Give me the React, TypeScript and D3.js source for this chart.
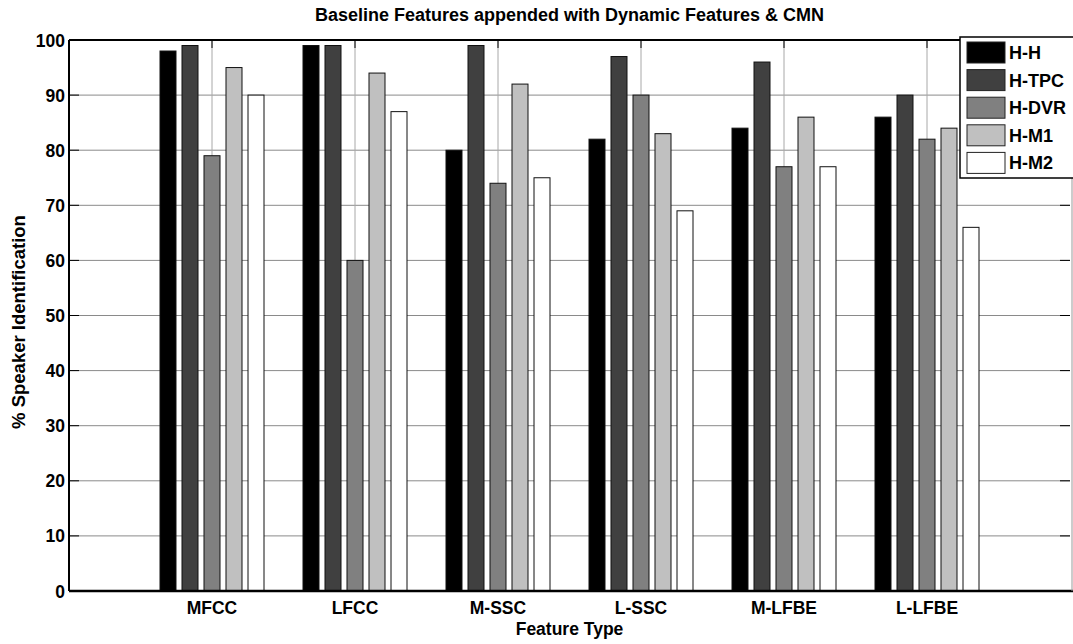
import React, { useRef, useEffect } from 'react';
import * as d3 from 'd3';

const categories = ['MFCC', 'LFCC', 'M-SSC', 'L-SSC', 'M-LFBE', 'L-LFBE'];
const seriesNames = ['H-H', 'H-TPC', 'H-DVR', 'H-M1', 'H-M2'];
const seriesColors = ['#000000', '#404040', '#808080', '#c0c0c0', '#ffffff'];

// one array per series, values per feature type
const hH = [98, 99, 80, 82, 84, 86];
const hTPC = [99, 99, 99, 97, 96, 90];
const hDVR = [79, 60, 74, 90, 77, 82];
const hM1 = [95, 94, 92, 83, 86, 84];
const hM2 = [90, 87, 75, 69, 77, 66];
const yTicks = [0, 10, 20, 30, 40, 50, 60, 70, 80, 90, 100];

const FONT = 'Liberation Sans, Arial, sans-serif';

const App = () => {
  const ref = useRef<SVGSVGElement>(null);

  useEffect(() => {
    const svg = d3.select(ref.current);
    svg.selectAll('*').remove();

    const left = 69, right = 1070, top = 40, bottom = 591;
    const allSeries = [hH, hTPC, hDVR, hM1, hM2];

    const x = d3.scaleLinear().domain([0, categories.length + 1]).range([left, right]);
    const y = d3.scaleLinear().domain([0, 100]).range([bottom, top]);
    const xs = d3.scaleBand().domain(seriesNames).range([-52, 52]).paddingInner(0.273);

    svg.append('rect').attr('width', 1073).attr('height', 644).attr('fill', '#fff');

    // grid
    const grid = svg.append('g');
    yTicks.slice(1, -1).forEach(t => {
      grid.append('line')
        .attr('x1', left).attr('x2', right)
        .attr('y1', y(t)).attr('y2', y(t))
        .attr('stroke', '#8a8a8a').attr('stroke-width', 1);
    });
    categories.forEach((c, i) => {
      grid.append('line')
        .attr('x1', x(i + 1)).attr('x2', x(i + 1))
        .attr('y1', top).attr('y2', bottom)
        .attr('stroke', '#a8a8a8').attr('stroke-width', 1);
    });

    // bars
    allSeries.forEach((vals, s) => {
      svg.append('g').selectAll('rect')
        .data(vals)
        .join('rect')
        .attr('x', (d, i) => x(i + 1) + (xs(seriesNames[s]) as number))
        .attr('y', d => y(d))
        .attr('width', xs.bandwidth())
        .attr('height', d => bottom - y(d))
        .attr('fill', seriesColors[s])
        .attr('stroke', '#111')
        .attr('stroke-width', 1);
    });

    // ticks
    yTicks.forEach(t => {
      svg.append('line').attr('x1', left).attr('x2', left + 10).attr('y1', y(t)).attr('y2', y(t)).attr('stroke', '#000');
      svg.append('line').attr('x1', right - 10).attr('x2', right).attr('y1', y(t)).attr('y2', y(t)).attr('stroke', '#000');
      svg.append('text')
        .attr('x', left - 4).attr('y', y(t) + 6.5)
        .attr('text-anchor', 'end')
        .attr('font-family', FONT).attr('font-weight', 'bold').attr('font-size', 17.5)
        .text(t);
    });
    categories.forEach((c, i) => {
      svg.append('line').attr('x1', x(i + 1)).attr('x2', x(i + 1)).attr('y1', top).attr('y2', top + 8).attr('stroke', '#000');
      svg.append('text')
        .attr('x', x(i + 1)).attr('y', 614)
        .attr('text-anchor', 'middle')
        .attr('font-family', FONT).attr('font-weight', 'bold').attr('font-size', 17.5)
        .text(c);
    });

    // axes box
    svg.append('line').attr('x1', left).attr('x2', right + 3).attr('y1', top).attr('y2', top).attr('stroke', '#000').attr('stroke-width', 2);
    svg.append('line').attr('x1', left).attr('x2', right + 3).attr('y1', bottom).attr('y2', bottom).attr('stroke', '#000').attr('stroke-width', 2.5);
    svg.append('line').attr('x1', left).attr('x2', left).attr('y1', top).attr('y2', bottom).attr('stroke', '#000').attr('stroke-width', 2);
    svg.append('line').attr('x1', right + 2).attr('x2', right + 2).attr('y1', top).attr('y2', bottom).attr('stroke', '#999').attr('stroke-width', 1);

    // titles
    svg.append('text')
      .attr('x', (left + right) / 2).attr('y', 21)
      .attr('text-anchor', 'middle')
      .attr('font-family', FONT).attr('font-weight', 'bold').attr('font-size', 18)
      .text('Baseline Features appended with Dynamic Features & CMN');
    svg.append('text')
      .attr('x', (left + right) / 2).attr('y', 635)
      .attr('text-anchor', 'middle')
      .attr('font-family', FONT).attr('font-weight', 'bold').attr('font-size', 17.5)
      .text('Feature Type');
    svg.append('text')
      .attr('transform', 'translate(25,322) rotate(-90)')
      .attr('text-anchor', 'middle')
      .attr('font-family', FONT).attr('font-weight', 'bold').attr('font-size', 18.5)
      .text('% Speaker Identification');

    // legend
    const lg = svg.append('g');
    lg.append('rect').attr('x', 960).attr('y', 37).attr('width', 130).attr('height', 141)
      .attr('fill', '#fff').attr('stroke', '#000').attr('stroke-width', 1.5);
    seriesNames.forEach((n, i) => {
      const yy = 42 + i * 27.6;
      lg.append('rect').attr('x', 967).attr('y', yy).attr('width', 38).attr('height', 21)
        .attr('fill', seriesColors[i]).attr('stroke', '#222').attr('stroke-width', 1);
      lg.append('text')
        .attr('x', 1009).attr('y', yy + 17)
        .attr('font-family', FONT).attr('font-weight', 'bold').attr('font-size', 18)
        .text(n);
    });
  }, []);

  return (
    <div style={{ position: 'fixed', left: 0, top: 0 }}>
      <svg ref={ref} width={1073} height={644}></svg>
    </div>
  );
};

export default App;
